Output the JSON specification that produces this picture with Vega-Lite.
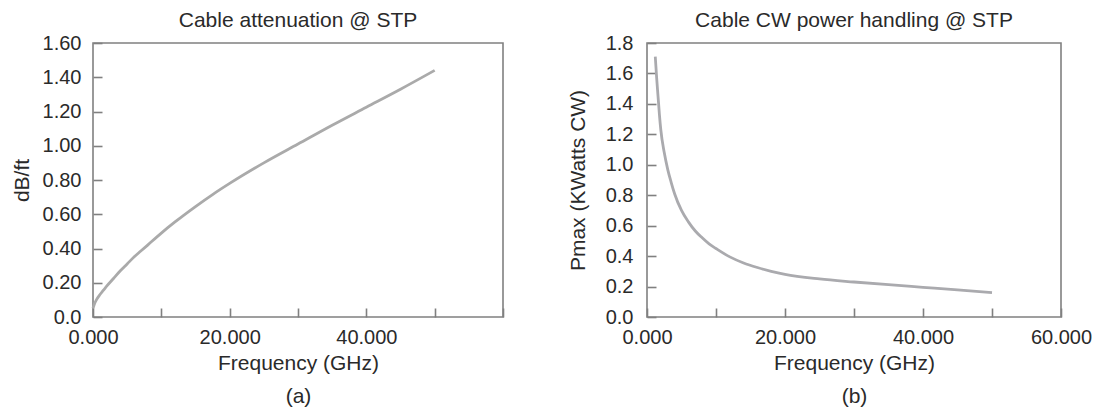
{
  "$schema": "https://vega.github.io/schema/vega-lite/v6.json",
  "padding": {"left": 10, "top": 9, "right": 0, "bottom": 0},
  "spacing": 61,
  "config": {
    "font": "Liberation Sans",
    "view": {"stroke": "#808080", "strokeWidth": 1.6},
    "axis": {
      "domain": false,
      "grid": false,
      "ticks": true,
      "tickSize": -9,
      "tickColor": "#808080",
      "tickWidth": 1.6,
      "labelFontSize": 20,
      "labelColor": "#2a2a2a",
      "labelFlush": false,
      "titleFontSize": 21,
      "titleFontWeight": "normal",
      "titleColor": "#2a2a2a"
    },
    "axisX": {"labelPadding": 19, "titlePadding": 5},
    "axisY": {"labelPadding": 21, "titlePadding": 10},
    "title": {"fontSize": 21, "fontWeight": "normal", "color": "#2a2a2a", "offset": 2}
  },
  "hconcat": [
    {
      "width": 410,
      "height": 274,
      "title": "Cable attenuation @ STP",
      "data": {"values": [
        {"freq": 0, "atten": 0.05},
        {"freq": 0.25, "atten": 0.08},
        {"freq": 0.5, "atten": 0.1},
        {"freq": 1, "atten": 0.13},
        {"freq": 1.5, "atten": 0.155},
        {"freq": 2, "atten": 0.18},
        {"freq": 3, "atten": 0.225},
        {"freq": 4, "atten": 0.27},
        {"freq": 5, "atten": 0.31},
        {"freq": 6, "atten": 0.35},
        {"freq": 7, "atten": 0.385},
        {"freq": 8, "atten": 0.42},
        {"freq": 10, "atten": 0.49},
        {"freq": 12, "atten": 0.555},
        {"freq": 15, "atten": 0.645},
        {"freq": 17.5, "atten": 0.715},
        {"freq": 20, "atten": 0.78},
        {"freq": 25, "atten": 0.9},
        {"freq": 30, "atten": 1.01},
        {"freq": 35, "atten": 1.12},
        {"freq": 40, "atten": 1.225},
        {"freq": 45, "atten": 1.33},
        {"freq": 50, "atten": 1.44}
      ]},
      "mark": {"type": "line", "color": "#aaaaaa", "strokeWidth": 2.8, "interpolate": "monotone"},
      "encoding": {
        "x": {
          "field": "freq", "type": "quantitative",
          "scale": {"domain": [0, 60], "nice": false},
          "axis": {
            "values": [0, 10, 20, 30, 40, 50, 60],
            "format": ".3f",
            "labelExpr": "datum.value == 0 || datum.value == 20 || datum.value == 40 ? datum.label : ''",
            "title": ["Frequency (GHz)", "(a)"],
            "titleLineHeight": 33
          }
        },
        "y": {
          "field": "atten", "type": "quantitative",
          "scale": {"domain": [0, 1.6], "nice": false},
          "axis": {
            "values": [0, 0.2, 0.4, 0.6, 0.8, 1, 1.2, 1.4, 1.6],
            "labelExpr": "datum.value == 0 ? '0.0' : format(datum.value, '.2f')",
            "title": "dB/ft"
          }
        }
      }
    },
    {
      "width": 414,
      "height": 274,
      "title": "Cable CW power handling @ STP",
      "data": {"values": [
        {"freq": 1.2, "pmax": 1.71},
        {"freq": 1.4, "pmax": 1.57},
        {"freq": 1.6, "pmax": 1.45},
        {"freq": 1.8, "pmax": 1.33},
        {"freq": 2, "pmax": 1.23},
        {"freq": 2.5, "pmax": 1.08},
        {"freq": 3, "pmax": 0.97},
        {"freq": 3.5, "pmax": 0.885},
        {"freq": 4, "pmax": 0.81},
        {"freq": 5, "pmax": 0.7},
        {"freq": 6, "pmax": 0.625},
        {"freq": 7, "pmax": 0.565},
        {"freq": 8, "pmax": 0.52},
        {"freq": 9, "pmax": 0.48},
        {"freq": 10, "pmax": 0.45},
        {"freq": 12, "pmax": 0.395},
        {"freq": 14, "pmax": 0.355},
        {"freq": 16, "pmax": 0.325},
        {"freq": 18, "pmax": 0.3},
        {"freq": 20, "pmax": 0.28},
        {"freq": 25, "pmax": 0.25},
        {"freq": 30, "pmax": 0.23},
        {"freq": 35, "pmax": 0.212},
        {"freq": 40, "pmax": 0.195},
        {"freq": 45, "pmax": 0.178},
        {"freq": 50, "pmax": 0.16}
      ]},
      "mark": {"type": "line", "color": "#aaaaae", "strokeWidth": 2.8, "interpolate": "monotone"},
      "encoding": {
        "x": {
          "field": "freq", "type": "quantitative",
          "scale": {"domain": [0, 60], "nice": false},
          "axis": {
            "values": [0, 10, 20, 30, 40, 50, 60],
            "format": ".3f",
            "labelExpr": "datum.value % 20 == 0 ? datum.label : ''",
            "title": ["Frequency (GHz)", "(b)"],
            "titleLineHeight": 33
          }
        },
        "y": {
          "field": "pmax", "type": "quantitative",
          "scale": {"domain": [0, 1.8], "nice": false},
          "axis": {
            "values": [0, 0.2, 0.4, 0.6, 0.8, 1, 1.2, 1.4, 1.6, 1.8],
            "format": ".1f",
            "labelPadding": 23,
            "titlePadding": 17,
            "title": "Pmax (KWatts CW)"
          }
        }
      }
    }
  ]
}
